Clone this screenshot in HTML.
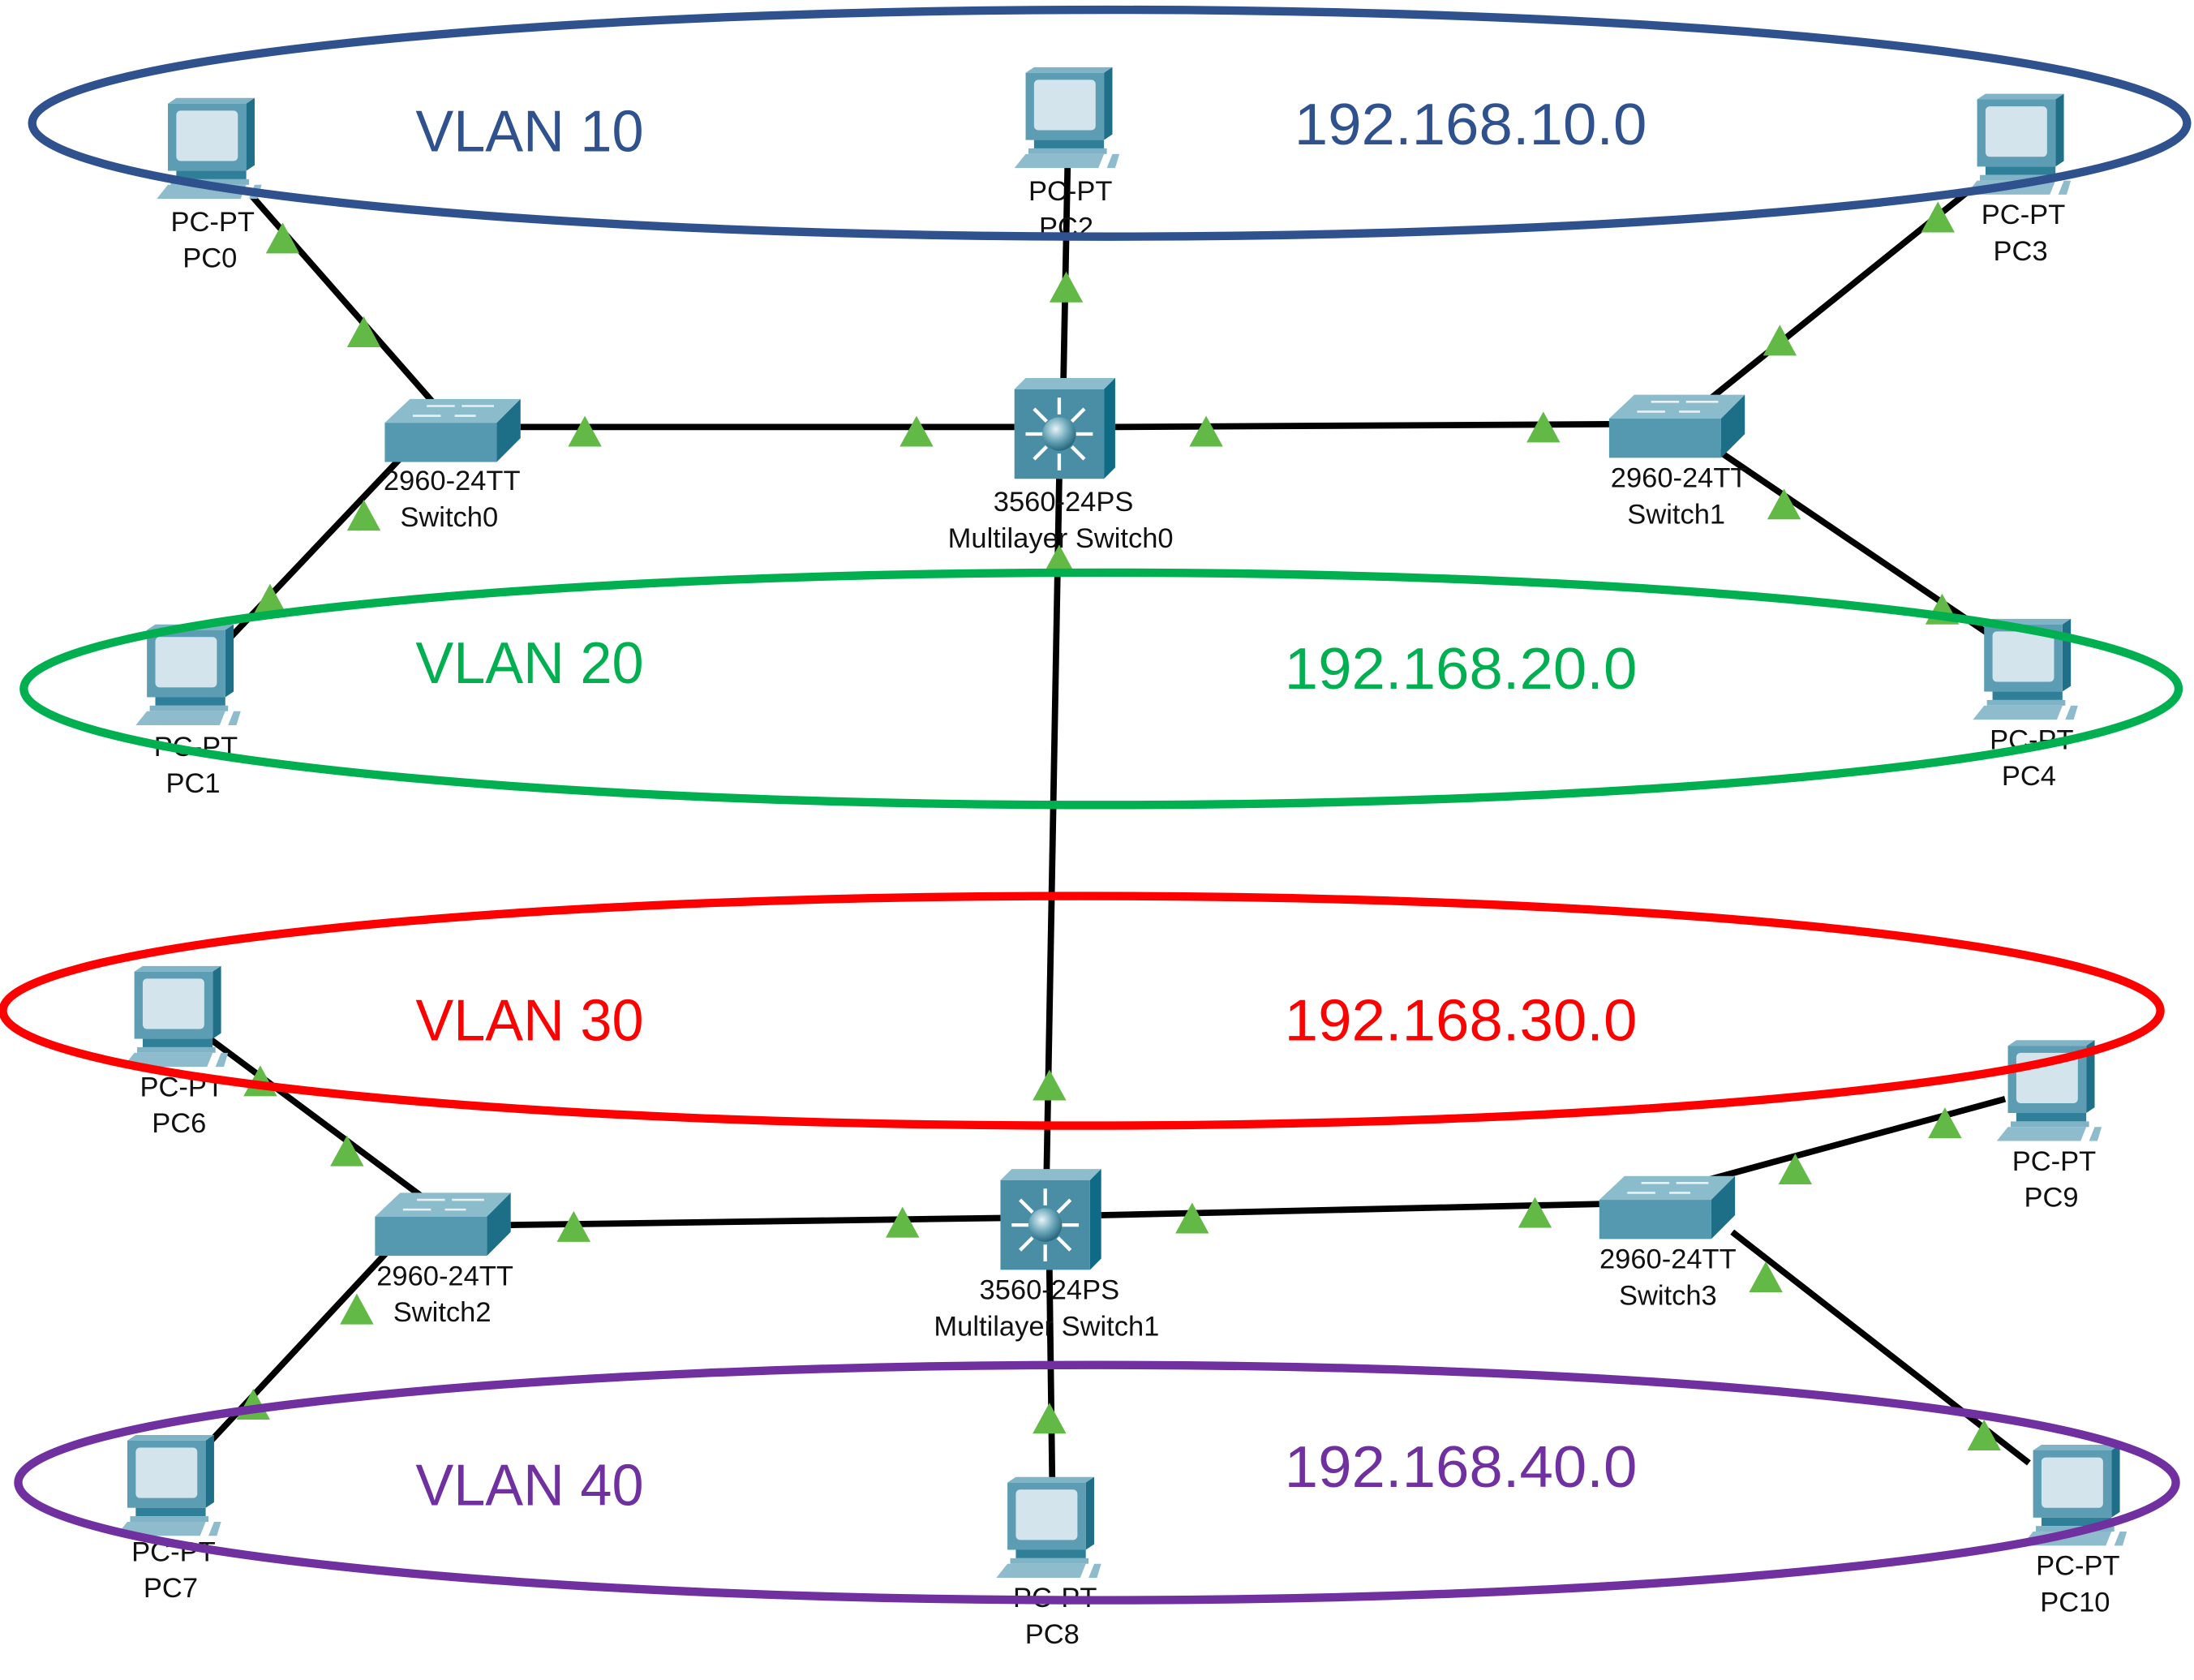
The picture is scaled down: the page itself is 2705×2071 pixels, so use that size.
<!DOCTYPE html>
<html><head><meta charset="utf-8"><style>
html,body{margin:0;padding:0;background:#fff}
svg{display:block}
.l{font-family:"Liberation Sans",sans-serif;font-size:20px;fill:#111;text-anchor:middle}
.v{font-family:"Liberation Sans Narrow","Liberation Sans",sans-serif;font-size:42px}
</style></head><body>
<svg width="2705" height="2071" viewBox="0 0 1568 1200" preserveAspectRatio="none" xmlns="http://www.w3.org/2000/svg">
<defs>
<radialGradient id="sp" cx="0.4" cy="0.35" r="0.7"><stop offset="0" stop-color="#e8f4f8"/><stop offset="0.5" stop-color="#6fa9bc"/><stop offset="1" stop-color="#1d5f75"/></radialGradient>
<g id="pc">
<polygon points="8,4 14,0 70,0 64,4" fill="#7fb3c5"/>
<polygon points="64,4 70,0 70,48 64,52" fill="#1f6f88"/>
<rect x="8" y="4" width="56" height="48" fill="#5c9db3"/>
<rect x="14" y="9" width="44" height="36" rx="3" fill="#d4e4ec"/>
<rect x="14" y="52" width="50" height="6" fill="#2f7f98"/>
<rect x="10" y="58" width="56" height="4" fill="#7fb3c5"/>
<polygon points="0,72 8,62 64,62 60,72" fill="#8fbccc"/>
<polygon points="66,72 70,62 75,62 72,72" fill="#8fbccc"/>
</g>
<g id="sw">
<polygon points="18,0 97,0 80,17 0,17" fill="#8bbccc"/>
<rect x="0" y="17" width="80" height="28" fill="#5499b0"/>
<polygon points="80,17 97,0 97,28 80,45" fill="#1c6f87"/>
<g stroke="#e8f2f5" stroke-width="1.5"><line x1="30" y1="5" x2="50" y2="5"/><line x1="55" y1="5" x2="78" y2="5"/><line x1="20" y1="12" x2="40" y2="12"/><line x1="50" y1="12" x2="65" y2="12"/></g>
</g>
<g id="mls">
<polygon points="0,8 8,0 72,0 64,8" fill="#8dbccc"/>
<polygon points="64,8 72,0 72,64 64,72" fill="#0e6a85"/>
<rect x="0" y="8" width="64" height="64" fill="#4a8ea6"/>
<g stroke="#fff" stroke-width="2.5"><line x1="32" y1="14" x2="32" y2="26"/><line x1="32" y1="54" x2="32" y2="66"/><line x1="8" y1="40" x2="20" y2="40"/><line x1="44" y1="40" x2="56" y2="40"/><line x1="14" y1="22" x2="23" y2="31"/><line x1="50" y1="22" x2="41" y2="31"/><line x1="14" y1="58" x2="23" y2="49"/><line x1="50" y1="58" x2="41" y2="49"/></g>
<circle cx="32" cy="40" r="12" fill="url(#sp)"/>
</g>
<polygon id="t" points="0,-11 12,11 -12,11" fill="#62b946"/>
</defs>

<g stroke="#000" stroke-width="4.5" fill="none">
<line x1="180" y1="140" x2="310" y2="288"/>
<line x1="295" y1="318" x2="165" y2="455"/>
<line x1="372" y1="305" x2="725" y2="305"/>
<line x1="763" y1="118" x2="760" y2="272"/>
<line x1="797" y1="305" x2="1150" y2="303"/>
<line x1="1222" y1="285" x2="1405" y2="138"/>
<line x1="1228" y1="322" x2="1420" y2="452"/>
<line x1="757" y1="342" x2="748" y2="837"/>
<line x1="150" y1="742" x2="302" y2="855"/>
<line x1="290" y1="880" x2="150" y2="1030"/>
<line x1="365" y1="875" x2="715" y2="870"/>
<line x1="787" y1="868" x2="1143" y2="860"/>
<line x1="1205" y1="847" x2="1433" y2="785"/>
<line x1="1238" y1="880" x2="1450" y2="1045"/>
<line x1="750" y1="907" x2="752" y2="1058"/>
</g>

<g>
<use href="#t" x="202" y="170"/><use href="#t" x="260" y="237"/><use href="#t" x="418" y="308"/><use href="#t" x="655" y="308"/>
<use href="#t" x="762" y="205"/><use href="#t" x="862" y="308"/><use href="#t" x="1103" y="305"/><use href="#t" x="1272" y="243"/>
<use href="#t" x="1385" y="155"/><use href="#t" x="260" y="368"/><use href="#t" x="193" y="428"/><use href="#t" x="757" y="400"/>
<use href="#t" x="1275" y="360"/><use href="#t" x="1388" y="435"/><use href="#t" x="750" y="775"/><use href="#t" x="186" y="772"/>
<use href="#t" x="248" y="822"/><use href="#t" x="410" y="876"/><use href="#t" x="645" y="873"/><use href="#t" x="852" y="870"/>
<use href="#t" x="1097" y="866"/><use href="#t" x="1283" y="835"/><use href="#t" x="1390" y="802"/><use href="#t" x="255" y="935"/>
<use href="#t" x="181" y="1003"/><use href="#t" x="750" y="1013"/><use href="#t" x="1262" y="912"/><use href="#t" x="1418" y="1025"/>
</g>

<use href="#pc" x="112" y="70"/>
<use href="#pc" x="725" y="48"/>
<use href="#pc" x="1405" y="67"/>
<use href="#pc" x="97" y="446"/>
<use href="#pc" x="1410" y="442"/>
<use href="#pc" x="88" y="690"/>
<use href="#pc" x="1427" y="743"/>
<use href="#pc" x="83" y="1025"/>
<use href="#pc" x="712" y="1055"/>
<use href="#pc" x="1445" y="1032"/>
<use href="#sw" x="275" y="285"/>
<use href="#sw" x="1150" y="282"/>
<use href="#sw" x="268" y="852"/>
<use href="#sw" x="1143" y="840"/>
<use href="#mls" x="725" y="270"/>
<use href="#mls" x="715" y="835"/>

<g class="l">
<text x="152" y="165">PC-PT</text><text x="150" y="191">PC0</text>
<text x="765" y="143">PC-PT</text><text x="762" y="169">PC2</text>
<text x="1446" y="160">PC-PT</text><text x="1444" y="186">PC3</text>
<text x="323" y="350">2960-24TT</text><text x="321" y="376">Switch0</text>
<text x="760" y="365">3560-24PS</text><text x="758" y="391">Multilayer Switch0</text>
<text x="1200" y="348">2960-24TT</text><text x="1198" y="374">Switch1</text>
<text x="140" y="540">PC-PT</text><text x="138" y="566">PC1</text>
<text x="1452" y="535">PC-PT</text><text x="1450" y="561">PC4</text>
<text x="130" y="783">PC-PT</text><text x="128" y="809">PC6</text>
<text x="1468" y="836">PC-PT</text><text x="1466" y="862">PC9</text>
<text x="318" y="918">2960-24TT</text><text x="316" y="944">Switch2</text>
<text x="750" y="928">3560-24PS</text><text x="748" y="954">Multilayer Switch1</text>
<text x="1192" y="906">2960-24TT</text><text x="1192" y="932">Switch3</text>
<text x="124" y="1115">PC-PT</text><text x="122" y="1141">PC7</text>
<text x="754" y="1148">PC-PT</text><text x="752" y="1174">PC8</text>
<text x="1485" y="1125">PC-PT</text><text x="1483" y="1151">PC10</text>
</g>

<g fill="none" stroke-width="6">
<ellipse cx="793" cy="88" rx="770" ry="81" stroke="#2f528f"/>
<ellipse cx="787" cy="492" rx="770" ry="83" stroke="#00b050"/>
<ellipse cx="773" cy="722" rx="771" ry="82" stroke="#ff0000"/>
<ellipse cx="784" cy="1059" rx="771" ry="84" stroke="#7030a0"/>
</g>

<g class="v">
<text x="297" y="108" fill="#2f528f" textLength="163" lengthAdjust="spacingAndGlyphs">VLAN 10</text>
<text x="925" y="103" fill="#2f528f" textLength="252" lengthAdjust="spacingAndGlyphs">192.168.10.0</text>
<text x="297" y="488" fill="#00b050" textLength="163" lengthAdjust="spacingAndGlyphs">VLAN 20</text>
<text x="918" y="492" fill="#00b050" textLength="252" lengthAdjust="spacingAndGlyphs">192.168.20.0</text>
<text x="297" y="743" fill="#ff0000" textLength="163" lengthAdjust="spacingAndGlyphs">VLAN 30</text>
<text x="918" y="743" fill="#ff0000" textLength="252" lengthAdjust="spacingAndGlyphs">192.168.30.0</text>
<text x="297" y="1075" fill="#7030a0" textLength="163" lengthAdjust="spacingAndGlyphs">VLAN 40</text>
<text x="918" y="1062" fill="#7030a0" textLength="252" lengthAdjust="spacingAndGlyphs">192.168.40.0</text>
</g>
</svg>
</body></html>
